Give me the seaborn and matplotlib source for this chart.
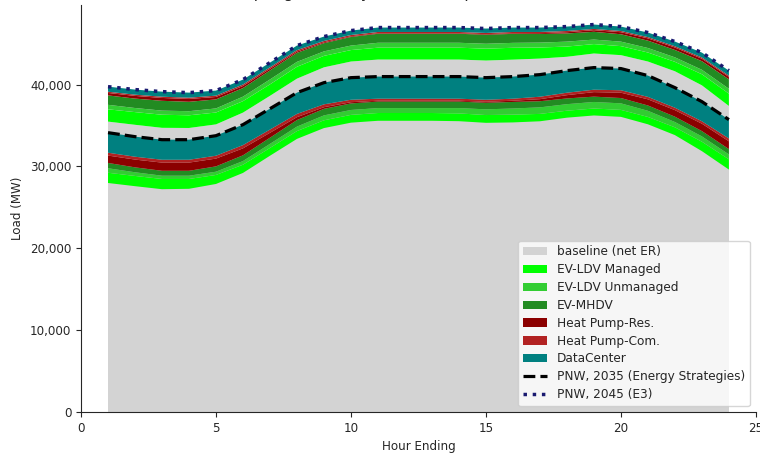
import matplotlib
matplotlib.use("Agg")
import matplotlib.pyplot as plt
from matplotlib.ticker import FuncFormatter
import pandas as pd
import seaborn as sns

hours = list(range(1, 25))

# ---- 2035 stack (MW) ----
baseline_2035 = [27980, 27590, 27220, 27270, 27860, 29210, 31310, 33370, 34690, 35350, 35580, 35580,
                 35580, 35530, 35330, 35380, 35520, 35960, 36230, 36060, 35150, 33830, 31870, 29620]
ev_ldv_managed_2035 = [1250, 1250, 1250, 1200, 1100, 1000, 950, 950, 950, 950, 950, 950,
                       950, 950, 950, 950, 900, 850, 850, 850, 900, 950, 1150, 1250]
ev_ldv_unmanaged_2035 = [550, 450, 400, 400, 400, 450, 500, 550, 600, 600, 600, 600,
                         600, 650, 700, 750, 800, 800, 800, 800, 750, 650, 650, 600]
ev_mhdv_2035 = [650, 600, 600, 600, 650, 700, 750, 800, 800, 800, 800, 800,
                800, 800, 800, 800, 750, 700, 650, 650, 650, 650, 650, 650]
hp_res_2035 = [900, 950, 1000, 1000, 950, 850, 600, 350, 200, 150, 100, 100,
               100, 100, 120, 150, 250, 400, 550, 650, 750, 800, 900, 950]
hp_com_2035 = [350, 350, 350, 350, 350, 400, 400, 400, 350, 300, 250, 250,
               250, 250, 250, 250, 300, 300, 300, 300, 300, 300, 300, 350]
datacenter_2035 = [2450, 2450, 2450, 2450, 2450, 2500, 2550, 2600, 2650, 2700, 2700, 2700,
                   2700, 2700, 2700, 2700, 2700, 2700, 2700, 2650, 2600, 2450, 2400, 2300]

# ---- 2045 stack (MW) ----
baseline_2045 = [35480, 35090, 34720, 34700, 35140, 36580, 38630, 40730, 42110, 42820, 43060, 43060,
                 43060, 43060, 42940, 43050, 43180, 43400, 43800, 43600, 42820, 41630, 39910, 37390]
ev_ldv_managed_2045 = [1500, 1550, 1600, 1550, 1450, 1400, 1400, 1450, 1400, 1400, 1450, 1450,
                       1450, 1450, 1450, 1450, 1350, 1250, 1150, 1100, 1100, 1150, 1350, 1500]
ev_ldv_unmanaged_2045 = [550, 500, 500, 500, 500, 550, 600, 600, 550, 550, 600, 600,
                         600, 600, 600, 600, 600, 600, 550, 550, 550, 550, 550, 600]
ev_mhdv_2045 = [1150, 1150, 1200, 1150, 1100, 1050, 1100, 1100, 1000, 1050, 1100, 1100,
                1100, 1100, 1100, 1100, 1050, 1000, 950, 900, 900, 900, 1050, 1150]
hp_res_2045 = [300, 330, 350, 350, 300, 250, 200, 150, 100, 80, 70, 70,
               70, 70, 70, 80, 100, 150, 200, 250, 280, 300, 300, 300]
hp_com_2045 = [150, 150, 150, 150, 160, 180, 180, 180, 170, 160, 150, 150,
               150, 150, 150, 150, 150, 150, 150, 150, 150, 150, 150, 150]
datacenter_2045 = [620, 620, 620, 620, 620, 600, 580, 560, 540, 540, 540, 540,
                   540, 540, 540, 540, 540, 540, 540, 540, 560, 580, 600, 620]

# ---- reference totals (MW) ----
pnw_2035 = [34130, 33640, 33270, 33270, 33760, 35110, 37060, 39020, 40240, 40850, 40980, 40980,
            40980, 40980, 40850, 40980, 41220, 41710, 42080, 41960, 41100, 39630, 37920, 35720]
pnw_2045 = [39750, 39390, 39140, 39020, 39270, 40610, 42690, 44770, 45870, 46600, 46970, 46970,
            46970, 46970, 46850, 46970, 46970, 47090, 47340, 47090, 46360, 45260, 43910, 41710]

labels = ["baseline (net ER)", "EV-LDV Managed", "EV-LDV Unmanaged", "EV-MHDV",
          "Heat Pump-Res.", "Heat Pump-Com.", "DataCenter"]
colors = ["lightgray", "lime", "limegreen", "forestgreen", "darkred", "firebrick", "teal"]

sns.set_style("ticks")
plt.rcParams["font.family"] = ["DejaVu Sans"]
plt.rcParams["font.size"] = 8.6

fig = plt.figure(figsize=(7.6, 4.53), dpi=100)
ax = fig.add_axes([0.1066, 0.0905, 0.888, 0.898])

stack_2045 = [baseline_2045, ev_ldv_managed_2045, ev_ldv_unmanaged_2045, ev_mhdv_2045,
              hp_res_2045, hp_com_2045, datacenter_2045]
stack_2035 = [baseline_2035, ev_ldv_managed_2035, ev_ldv_unmanaged_2035, ev_mhdv_2035,
              hp_res_2035, hp_com_2035, datacenter_2035]

ax.stackplot(hours, *stack_2045, colors=colors, linewidth=0, edgecolor="none")
ax.stackplot(hours, *stack_2035, colors=colors, labels=labels, linewidth=0, edgecolor="none")

lines = pd.DataFrame({"hour": hours, "p35": pnw_2035, "p45": pnw_2045})
sns.lineplot(data=lines, x="hour", y="p35", ax=ax, color="black", linewidth=2.3,
             linestyle="--", label="PNW, 2035 (Energy Strategies)")
sns.lineplot(data=lines, x="hour", y="p45", ax=ax, color="midnightblue", linewidth=2.5,
             linestyle=":", label="PNW, 2045 (E3)")

ax.set_xlim(0, 25)
ax.set_ylim(0, 49700)
ax.set_xticks([0, 5, 10, 15, 20, 25])
ax.set_yticks([0, 10000, 20000, 30000, 40000])
ax.yaxis.set_major_formatter(FuncFormatter(lambda v, p: f"{v:,.0f}"))
ax.set_xlabel("Hour Ending")
ax.set_ylabel("Load (MW)")
ax.set_title("Spring Peak Day Load Buildup, 2035 vs. 2045", fontsize=11, pad=5.5)
sns.despine(ax=ax)
ax.legend(loc="lower right", fontsize=8.7, labelspacing=0.4)

fig.savefig("out.png", dpi=100)
